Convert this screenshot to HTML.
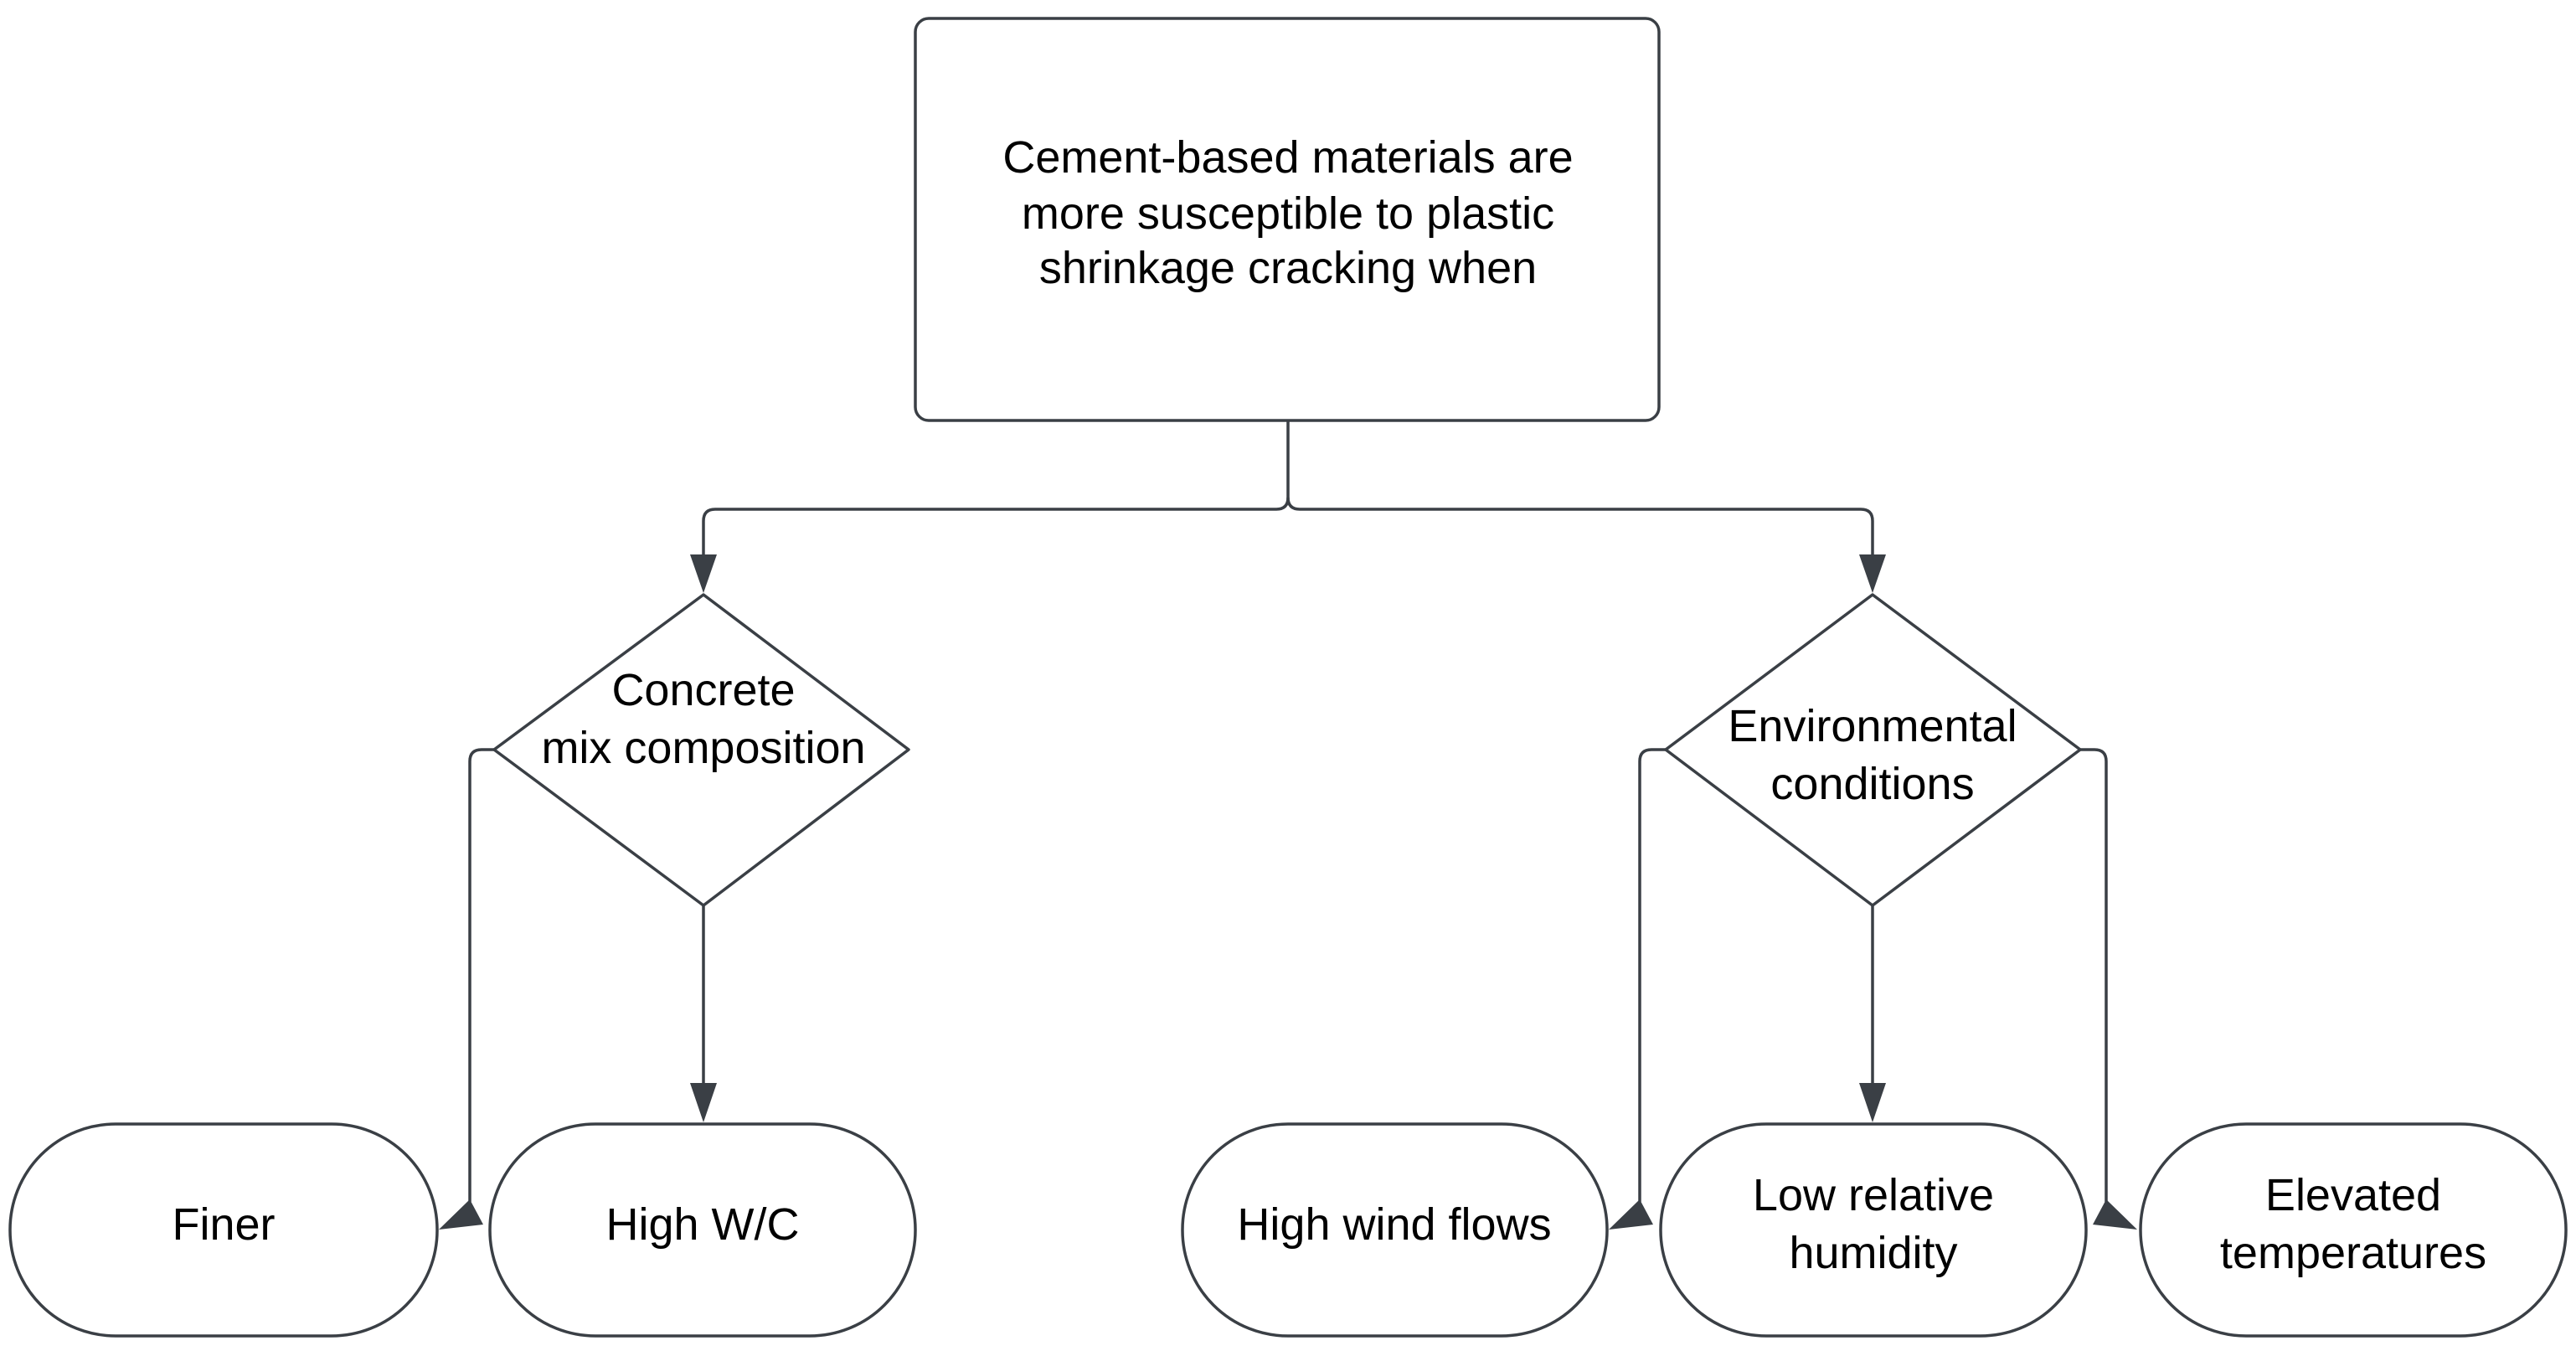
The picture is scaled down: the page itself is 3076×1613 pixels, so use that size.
<!DOCTYPE html>
<html><head><meta charset="utf-8"><style>
html,body{margin:0;padding:0;background:#fff;}
svg{display:block;}
text{font-family:"Liberation Sans",Arial,sans-serif;font-size:54px;fill:#000;text-anchor:middle;}
</style></head><body>
<svg width="3076" height="1613" viewBox="0 0 3076 1613" xmlns="http://www.w3.org/2000/svg">
<g fill="#fff" stroke="#3a3f45" stroke-width="3.5">
<rect x="1093" y="22" width="888" height="480" rx="16"/>
<path d="M840 710 L1085 895 L840 1081 L590 895 Z" stroke-linejoin="round"/>
<path d="M2236 710 L2484 895 L2236 1081 L1989 895 Z" stroke-linejoin="round"/>
<rect x="12" y="1342" width="510" height="253" rx="126"/>
<rect x="585" y="1342" width="508" height="253" rx="126"/>
<rect x="1412" y="1342" width="507" height="253" rx="126"/>
<rect x="1983" y="1342" width="508" height="253" rx="126"/>
<rect x="2556" y="1342" width="508" height="253" rx="126"/>
</g>
<g fill="none" stroke="#3a3f45" stroke-width="3.5">
<path d="M1538 502 V594 Q1538 608 1524 608 H854 Q840 608 840 622 V665"/>
<path d="M1538 594 Q1538 608 1552 608 H2222 Q2236 608 2236 622 V665"/>
<path d="M840 1081 V1295"/>
<path d="M2236 1081 V1295"/>
<path d="M590 895 H575 Q561 895 561 909 V1435"/>
<path d="M1989 895 H1972 Q1958 895 1958 909 V1435"/>
<path d="M2484 895 H2501 Q2515 895 2515 909 V1435"/>
</g>
<g fill="#3a3f45">
<polygon points="824,662 856,662 840,708"/>
<polygon points="2220,662 2252,662 2236,708"/>
<polygon points="824,1293 856,1293 840,1340"/>
<polygon points="2220,1293 2252,1293 2236,1340"/>
<polygon points="561,1432 577,1462 524,1468"/>
<polygon points="1958,1432 1974,1462 1921,1468"/>
<polygon points="2515,1432 2499,1462 2552,1468"/>
</g>
<text x="1538" y="206">Cement-based materials are</text>
<text x="1538" y="273">more susceptible to plastic</text>
<text x="1538" y="338">shrinkage cracking when</text>
<text x="840" y="842">Concrete</text>
<text x="840" y="911">mix composition</text>
<text x="2236" y="885">Environmental</text>
<text x="2236" y="954">conditions</text>
<text x="267" y="1480">Finer</text>
<text x="839" y="1480">High W/C</text>
<text x="1665" y="1480">High wind flows</text>
<text x="2237" y="1445">Low relative</text>
<text x="2237" y="1514">humidity</text>
<text x="2810" y="1445">Elevated</text>
<text x="2810" y="1514">temperatures</text>
</svg>
</body></html>
